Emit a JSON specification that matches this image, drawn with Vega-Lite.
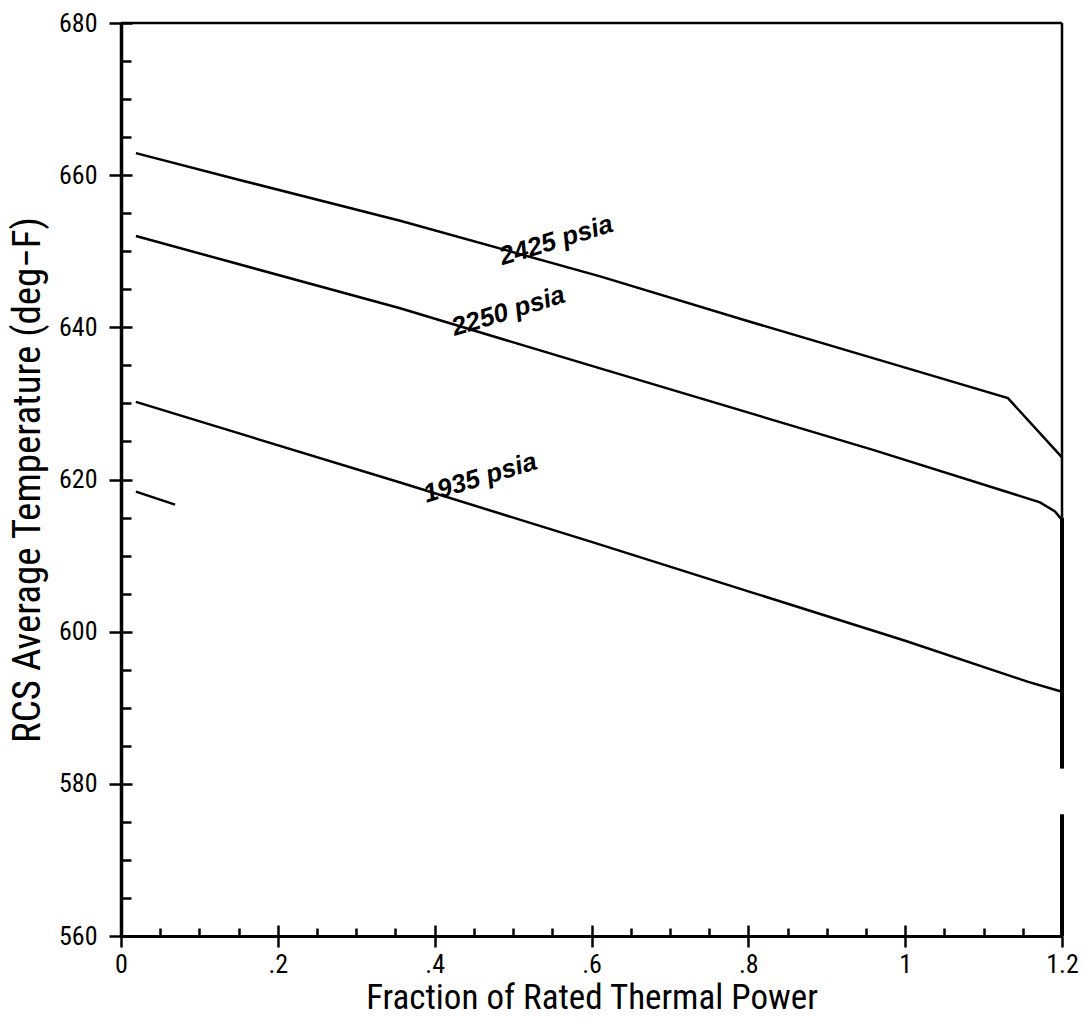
{
  "$schema": "https://vega.github.io/schema/vega-lite/v6.json",
  "autosize": {"type": "none"},
  "width": 941,
  "height": 913,
  "padding": {"left": 121, "top": 23, "right": 21, "bottom": 84},
  "background": "white",
  "config": {"view": {"stroke": null}},
  "resolve": {"axis": {"x": "independent", "y": "independent"}},
  "datasets": {
    "curves": [
      {"series": "2425", "x": 0.019, "y": 662.9},
      {"series": "2425", "x": 0.15, "y": 659.4},
      {"series": "2425", "x": 0.356, "y": 654.0},
      {"series": "2425", "x": 0.611, "y": 646.7},
      {"series": "2425", "x": 0.8, "y": 640.8},
      {"series": "2425", "x": 1.0, "y": 634.7},
      {"series": "2425", "x": 1.131, "y": 630.7},
      {"series": "2425", "x": 1.2, "y": 622.9},
      {"series": "2250", "x": 0.019, "y": 652.0},
      {"series": "2250", "x": 0.356, "y": 642.5},
      {"series": "2250", "x": 0.611, "y": 634.6},
      {"series": "2250", "x": 0.959, "y": 623.9},
      {"series": "2250", "x": 1.172, "y": 617.0},
      {"series": "2250", "x": 1.191, "y": 615.8},
      {"series": "2250", "x": 1.2, "y": 614.7},
      {"series": "1935", "x": 0.019, "y": 630.2},
      {"series": "1935", "x": 0.356, "y": 619.6},
      {"series": "1935", "x": 0.6, "y": 611.8},
      {"series": "1935", "x": 0.8, "y": 605.3},
      {"series": "1935", "x": 1.0, "y": 598.8},
      {"series": "1935", "x": 1.157, "y": 593.4},
      {"series": "1935", "x": 1.2, "y": 592.1},
      {"series": "short", "x": 0.019, "y": 618.4},
      {"series": "short", "x": 0.069, "y": 616.7}
    ],
    "labels": [
      {"label": "2425 psia", "x": 0.555, "y": 651.4},
      {"label": "2250 psia", "x": 0.494, "y": 642.1},
      {"label": "1935 psia", "x": 0.458, "y": 620.2}
    ],
    "frameThin": [
      {"x": 0, "x2": 1.2, "y": 680, "y2": 680},
      {"x": 1.2, "x2": 1.2, "y": 680, "y2": 615}
    ],
    "frameThick": [
      {"x": 1.2, "x2": 1.2, "y": 615, "y2": 582},
      {"x": 1.2, "x2": 1.2, "y": 576, "y2": 560}
    ]
  },
  "layer": [
    {
      "data": {"name": "curves"},
      "mark": {"type": "line", "color": "black", "strokeWidth": 2.5, "clip": false},
      "encoding": {
        "x": {
          "field": "x", "type": "quantitative",
          "scale": {"domain": [0, 1.2], "nice": false, "zero": false},
          "axis": {
            "orient": "bottom",
            "title": "Fraction of Rated Thermal Power",
            "values": [0, 0.05, 0.1, 0.15, 0.2, 0.25, 0.3, 0.35, 0.4, 0.45, 0.5, 0.55, 0.6, 0.65, 0.7, 0.75, 0.8, 0.85, 0.9, 0.95, 1.0, 1.05, 1.1, 1.15, 1.2],
            "labelExpr": "abs(datum.value*5 - round(datum.value*5)) < 0.001 ? ((datum.value > 0.01 && datum.value < 0.99) ? '.' + round(datum.value*10) : format(datum.value, '.2~f')) : ''",
            "grid": false,
            "domainColor": "black", "domainWidth": 3,
            "tickColor": "black", "tickWidth": 2.5,
            "tickSize": {"condition": {"test": "abs(datum.value*5 - round(datum.value*5)) < 0.001", "value": 11}, "value": -8},
            "labelFont": "Roboto Condensed, DejaVu Sans Condensed, sans-serif", "labelFontSize": 26, "labelColor": "black",
            "labelPadding": 4, "labelOverlap": false, "labelFlush": false, "labelBound": false,
            "titleFont": "Roboto Condensed, DejaVu Sans Condensed, sans-serif", "titleFontSize": 35, "titleFontWeight": "normal", "titleColor": "black",
            "titlePadding": 3
          }
        },
        "y": {
          "field": "y", "type": "quantitative",
          "scale": {"domain": [560, 680], "nice": false, "zero": false},
          "axis": {
            "orient": "left",
            "title": "RCS Average Temperature (deg−F)",
            "values": [560, 565, 570, 575, 580, 585, 590, 595, 600, 605, 610, 615, 620, 625, 630, 635, 640, 645, 650, 655, 660, 665, 670, 675, 680],
            "labelExpr": "abs(datum.value/20 - round(datum.value/20)) < 0.001 ? datum.label : ''",
            "grid": false,
            "domainColor": "black", "domainWidth": 3.5,
            "tickColor": "black", "tickWidth": 2.5,
            "tickSize": {"condition": {"test": "abs(datum.value/20 - round(datum.value/20)) < 0.001", "value": 12}, "value": -10},
            "labelFont": "Roboto Condensed, DejaVu Sans Condensed, sans-serif", "labelFontSize": 26, "labelColor": "black",
            "labelPadding": 12, "labelOverlap": false, "labelFlush": false, "labelBound": false,
            "titleFont": "Roboto Condensed, DejaVu Sans Condensed, sans-serif", "titleFontSize": 39, "titleFontWeight": "normal", "titleColor": "black",
            "titlePadding": 11
          }
        },
        "detail": {"field": "series"},
        "order": {"field": "x", "type": "quantitative"}
      }
    },
    {
      "data": {"name": "frameThin"},
      "mark": {"type": "rule", "color": "black", "strokeWidth": 2.5},
      "encoding": {
        "x": {
          "field": "x", "type": "quantitative",
          "scale": {"domain": [0, 1.2], "nice": false, "zero": false},
          "axis": {"orient": "bottom", "title": null, "values": [0, 0.2, 0.4, 0.6, 0.8, 1.0, 1.2], "labels": false, "domain": false, "grid": false, "tickColor": "black", "tickWidth": 2.5, "tickSize": -11}
        },
        "x2": {"field": "x2"},
        "y": {
          "field": "y", "type": "quantitative",
          "scale": {"domain": [560, 680], "nice": false, "zero": false},
          "axis": {"orient": "left", "title": null, "values": [560, 580, 600, 620, 640, 660, 680], "labels": false, "domain": false, "grid": false, "tickColor": "black", "tickWidth": 2.5, "tickSize": -11}
        },
        "y2": {"field": "y2"}
      }
    },
    {
      "data": {"name": "frameThick"},
      "mark": {"type": "rule", "color": "black", "strokeWidth": 4},
      "encoding": {
        "x": {"field": "x", "type": "quantitative", "scale": {"domain": [0, 1.2], "nice": false, "zero": false}, "axis": null},
        "x2": {"field": "x2"},
        "y": {"field": "y", "type": "quantitative", "scale": {"domain": [560, 680], "nice": false, "zero": false}, "axis": null},
        "y2": {"field": "y2"}
      }
    },
    {
      "data": {"name": "labels"},
      "mark": {"type": "text", "font": "Liberation Sans", "fontSize": 26, "fontWeight": "bold", "fontStyle": "italic", "angle": -17, "align": "center", "baseline": "middle", "color": "black"},
      "encoding": {
        "x": {"field": "x", "type": "quantitative", "scale": {"domain": [0, 1.2], "nice": false, "zero": false}, "axis": null},
        "y": {"field": "y", "type": "quantitative", "scale": {"domain": [560, 680], "nice": false, "zero": false}, "axis": null},
        "text": {"field": "label"}
      }
    }
  ]
}
